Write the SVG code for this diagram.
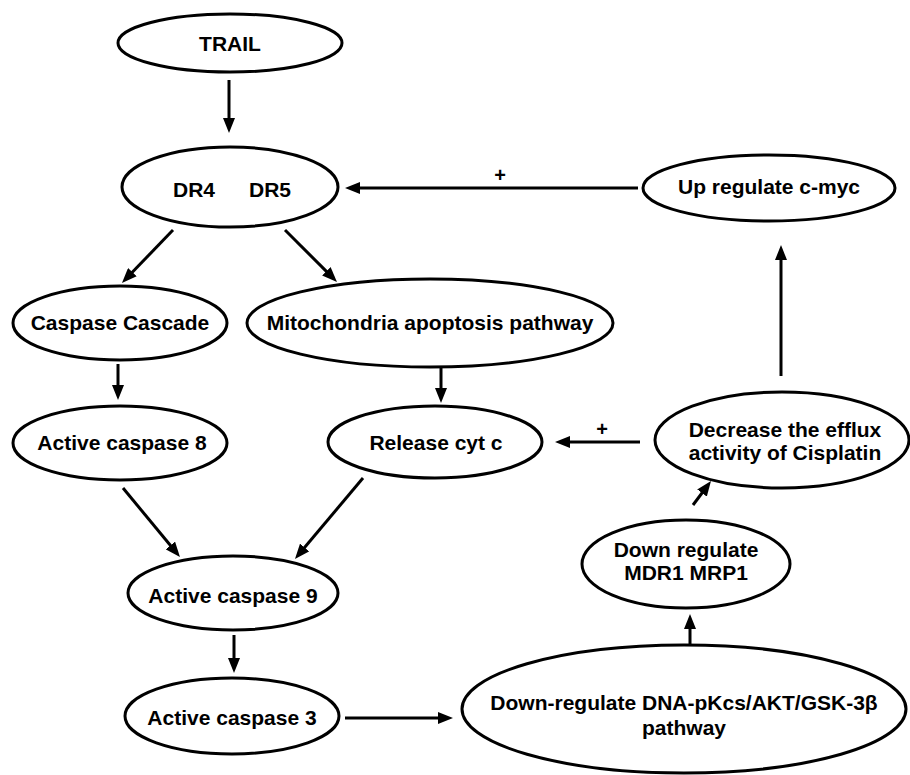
<svg xmlns="http://www.w3.org/2000/svg" width="910" height="775" viewBox="0 0 910 775">
<style>
  .node ellipse { fill: #ffffff; stroke: #000000; stroke-width: 3; }
  .node text, .lbl { font-family: "Liberation Sans", Arial, sans-serif; font-weight: bold; font-size: 21px; fill: #000000; text-anchor: middle; }
  .lbl { font-size: 20px; }
  .conn line { stroke: #000000; stroke-width: 3; marker-end: url(#ah); }
</style>
<defs>
  <marker id="ah" markerUnits="userSpaceOnUse" markerWidth="15" markerHeight="12" refX="5" refY="6" orient="auto">
    <path d="M0,0 L15,6 L0,12 z" fill="#000000"/>
  </marker>
</defs>
<rect width="910" height="775" fill="#ffffff"/>

<g id="connectors" class="conn">
  <line x1="229" y1="80" x2="229" y2="123"/>
  <line x1="638" y1="188" x2="355" y2="188"/>
  <line x1="173" y1="230" x2="128.9" y2="275.8"/>
  <line x1="285" y1="230" x2="329.9" y2="274.9"/>
  <line x1="118" y1="364" x2="118" y2="390"/>
  <line x1="441" y1="368" x2="441" y2="393"/>
  <line x1="640" y1="442" x2="565" y2="442"/>
  <line x1="781" y1="376" x2="781" y2="255"/>
  <line x1="123" y1="488" x2="173.6" y2="549.3"/>
  <line x1="363" y1="478" x2="301.4" y2="551.3"/>
  <line x1="234" y1="635" x2="234" y2="663"/>
  <line x1="345" y1="718" x2="443" y2="718"/>
  <line x1="690" y1="645" x2="690" y2="624"/>
  <line x1="693" y1="505" x2="705" y2="489"/>
</g>
<text class="lbl" x="500" y="182">+</text>
<text class="lbl" x="602" y="436">+</text>

<g id="trail" class="node">
  <ellipse cx="230" cy="43" rx="112" ry="29"/>
  <text x="230" y="51">TRAIL</text>
</g>
<g id="dr" class="node">
  <ellipse cx="230" cy="187" rx="108" ry="40"/>
  <text x="194" y="197">DR4</text>
  <text x="270" y="197">DR5</text>
</g>
<g id="cmyc" class="node">
  <ellipse cx="769" cy="188" rx="126" ry="33"/>
  <text x="769" y="194">Up regulate c-myc</text>
</g>
<g id="cascade" class="node">
  <ellipse cx="120" cy="323" rx="107" ry="37"/>
  <text x="120" y="330">Caspase Cascade</text>
</g>
<g id="mito" class="node">
  <ellipse cx="430" cy="323" rx="183" ry="44"/>
  <text x="430" y="330">Mitochondria apoptosis pathway</text>
</g>
<g id="casp8" class="node">
  <ellipse cx="120" cy="443" rx="107" ry="37"/>
  <text x="122" y="450">Active caspase 8</text>
</g>
<g id="cytc" class="node">
  <ellipse cx="435" cy="442" rx="107" ry="36"/>
  <text x="436" y="450">Release cyt c</text>
</g>
<g id="efflux" class="node">
  <ellipse cx="782" cy="440" rx="127" ry="48"/>
  <text x="785" y="437">Decrease the efflux</text>
  <text x="785" y="460">activity of Cisplatin</text>
</g>
<g id="mdr" class="node">
  <ellipse cx="686" cy="564" rx="104" ry="44"/>
  <text x="686" y="557">Down regulate</text>
  <text x="686" y="580">MDR1 MRP1</text>
</g>
<g id="casp9" class="node">
  <ellipse cx="233" cy="593" rx="105" ry="37"/>
  <text x="233" y="603">Active caspase 9</text>
</g>
<g id="casp3" class="node">
  <ellipse cx="232" cy="716" rx="107" ry="38"/>
  <text x="232" y="725">Active caspase 3</text>
</g>
<g id="dna" class="node">
  <ellipse cx="684" cy="709" rx="222" ry="64"/>
  <text x="684" y="710">Down-regulate DNA-pKcs/AKT/GSK-3β</text>
  <text x="684" y="735">pathway</text>
</g>
</svg>
